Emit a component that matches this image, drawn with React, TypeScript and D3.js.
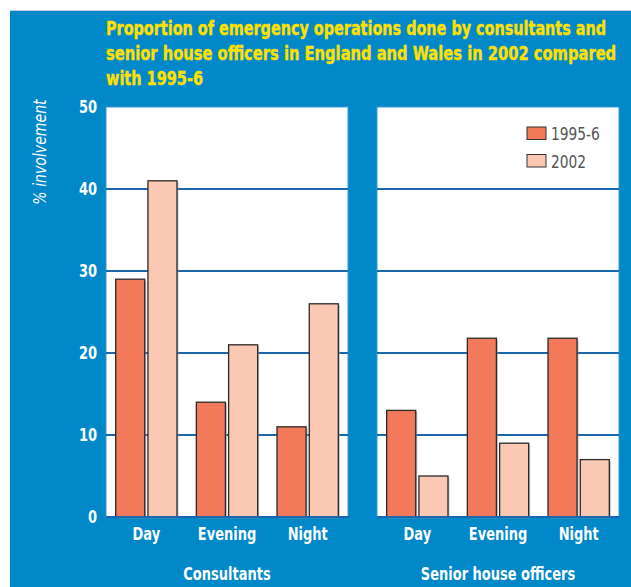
import React, { useLayoutEffect, useRef, useState } from "react";
import * as d3 from "d3";

const periods = ["Day", "Evening", "Night"];
const seriesNames = ["1995-6", "2002"];
const consultants1995 = [29, 14, 11];
const consultants2002 = [41, 21, 26];
const sho1995 = [13, 21.8, 21.8];
const sho2002 = [5, 9, 7];
const panelTitles = ["Consultants", "Senior house officers"];
const yTicks = [0, 10, 20, 30, 40, 50];
const titleLines = [
  "Proportion of emergency operations done by consultants and",
  "senior house officers in England and Wales in 2002 compared",
  "with 1995-6",
];

const W = 631;
const H = 587;
const BLUE = "#0088c9";
const GRID = "#1a67b0";
const C1995 = "#f27a5b";
const C2002 = "#fac8b3";
const YELLOW = "#ffe000";
const FONT = "'Liberation Sans Narrow', 'DejaVu Sans Condensed', 'Roboto', sans-serif";

const panels = [
  { title: panelTitles[0], left: 106, right: 348, data: [consultants1995, consultants2002] },
  { title: panelTitles[1], left: 377, right: 619, data: [sho1995, sho2002] },
];

type FitProps = {
  x: number;
  y: number;
  ratio: number;
  anchor?: "start" | "middle" | "end";
  rotate?: number;
  children: string;
  [k: string]: any;
};

function NarrowText({ x, y, ratio, anchor = "start", rotate = 0, children, ...rest }: FitProps) {
  return (
    <text
      transform={`translate(${x},${y}) rotate(${rotate}) scale(${ratio},1)`}
      textAnchor={anchor}
      {...rest}
    >
      {children}
    </text>
  );
}

function FitWidth({ x, y, width, children, ...rest }: { x: number; y: number; width: number; children: string; [k: string]: any }) {
  const ref = useRef<SVGTextElement>(null);
  const [s, setS] = useState(0.8);
  useLayoutEffect(() => {
    if (ref.current) {
      const len = ref.current.getComputedTextLength();
      if (len > 0) setS(width / len);
    }
  }, [width, children]);
  return (
    <g transform={`translate(${x},${y}) scale(${s},1)`}>
      <text ref={ref} x={0} y={0} {...rest}>
        {children}
      </text>
    </g>
  );
}

export default function App() {
  const y = d3.scaleLinear().domain([0, 50]).range([517, 107]);
  const colors = [C1995, C2002];
  const titleWidths = [500, 510, 97];
  const BOLD_RATIO = 0.85;

  return (
    <svg
      width={W}
      height={H}
      style={{ position: "absolute", left: 0, top: 0, display: "block" }}
      fontFamily={FONT}
    >
      <rect x={0} y={0} width={W} height={H} fill="#fff" />
      <rect x={10} y={11} width={W - 10} height={H - 11} fill={BLUE} />
      <line x1={10} x2={W} y1={10.5} y2={10.5} stroke="#ccd" strokeWidth={1} />

      {titleLines.map((t, i) => (
        <FitWidth
          key={i}
          x={106}
          y={35 + i * 25}
          width={titleWidths[i]}
          fill={YELLOW}
          stroke={YELLOW}
          strokeWidth={0.4}
          fontSize={19.5}
          fontWeight="bold"
        >
          {t}
        </FitWidth>
      ))}

      <NarrowText
        x={46}
        y={152}
        rotate={-90}
        ratio={0.92}
        anchor="middle"
        fill="#fff"
        fontSize={17}
        fontStyle="italic"
      >
        % involvement
      </NarrowText>

      {yTicks.map((t) => (
        <NarrowText
          key={t}
          x={97}
          y={y(t) + 6}
          ratio={BOLD_RATIO}
          anchor="end"
          fill="#fff"
          fontSize={17}
          fontWeight="bold"
        >
          {String(t)}
        </NarrowText>
      ))}

      {panels.map((p, pi) => {
        const x0 = d3.scaleBand().domain(periods).range([p.left, p.right]).paddingInner(0).paddingOuter(0);
        const x1 = d3
          .scaleBand()
          .domain(seriesNames)
          .range([0, x0.bandwidth()])
          .paddingInner(0.1)
          .paddingOuter(0.3);
        return (
          <g key={pi}>
            <rect
              x={p.left}
              y={y(50)}
              width={p.right - p.left}
              height={y(0) - y(50)}
              fill="#fff"
              stroke="#3a9ad6"
              strokeWidth={1}
            />
            {yTicks
              .filter((t) => t > 0 && t < 50)
              .map((t) => (
                <line
                  key={t}
                  x1={p.left}
                  x2={p.right}
                  y1={y(t)}
                  y2={y(t)}
                  stroke={GRID}
                  strokeWidth={2}
                />
              ))}
            {periods.map((per, ci) =>
              seriesNames.map((s, si) => {
                const v = p.data[si][ci];
                const bx = (x0(per) as number) + (x1(s) as number);
                const bw = x1.bandwidth();
                return (
                  <g key={per + s}>
                    <rect
                      x={bx + 1.5}
                      y={y(v) + 1.5}
                      width={bw}
                      height={y(0) - y(v)}
                      fill="#999"
                      opacity={0.6}
                    />
                    <rect
                      x={bx}
                      y={y(v)}
                      width={bw}
                      height={y(0) - y(v)}
                      fill={colors[si]}
                      stroke="#2a2a2a"
                      strokeWidth={1.3}
                    />
                  </g>
                );
              })
            )}
            <line x1={p.left} x2={p.right + 1} y1={y(0)} y2={y(0)} stroke={GRID} strokeWidth={2} />
            {periods.map((per) => (
              <NarrowText
                key={per}
                x={(x0(per) as number) + x0.bandwidth() / 2}
                y={540}
                ratio={BOLD_RATIO}
                anchor="middle"
                fill="#fff"
                fontSize={17}
                fontWeight="bold"
              >
                {per}
              </NarrowText>
            ))}
            <NarrowText
              x={(p.left + p.right) / 2}
              y={580}
              ratio={BOLD_RATIO}
              anchor="middle"
              fill="#fff"
              fontSize={17}
              fontWeight="bold"
            >
              {p.title}
            </NarrowText>
          </g>
        );
      })}

      {seriesNames.map((s, i) => (
        <g key={s}>
          <rect
            x={527}
            y={127 + i * 27.5}
            width={19}
            height={12.5}
            fill={colors[i]}
            stroke="#333"
            strokeWidth={1}
          />
          <NarrowText x={551} y={140 + i * 27.5} ratio={0.9} fill="#555" fontSize={17}>
            {s}
          </NarrowText>
        </g>
      ))}
    </svg>
  );
}
